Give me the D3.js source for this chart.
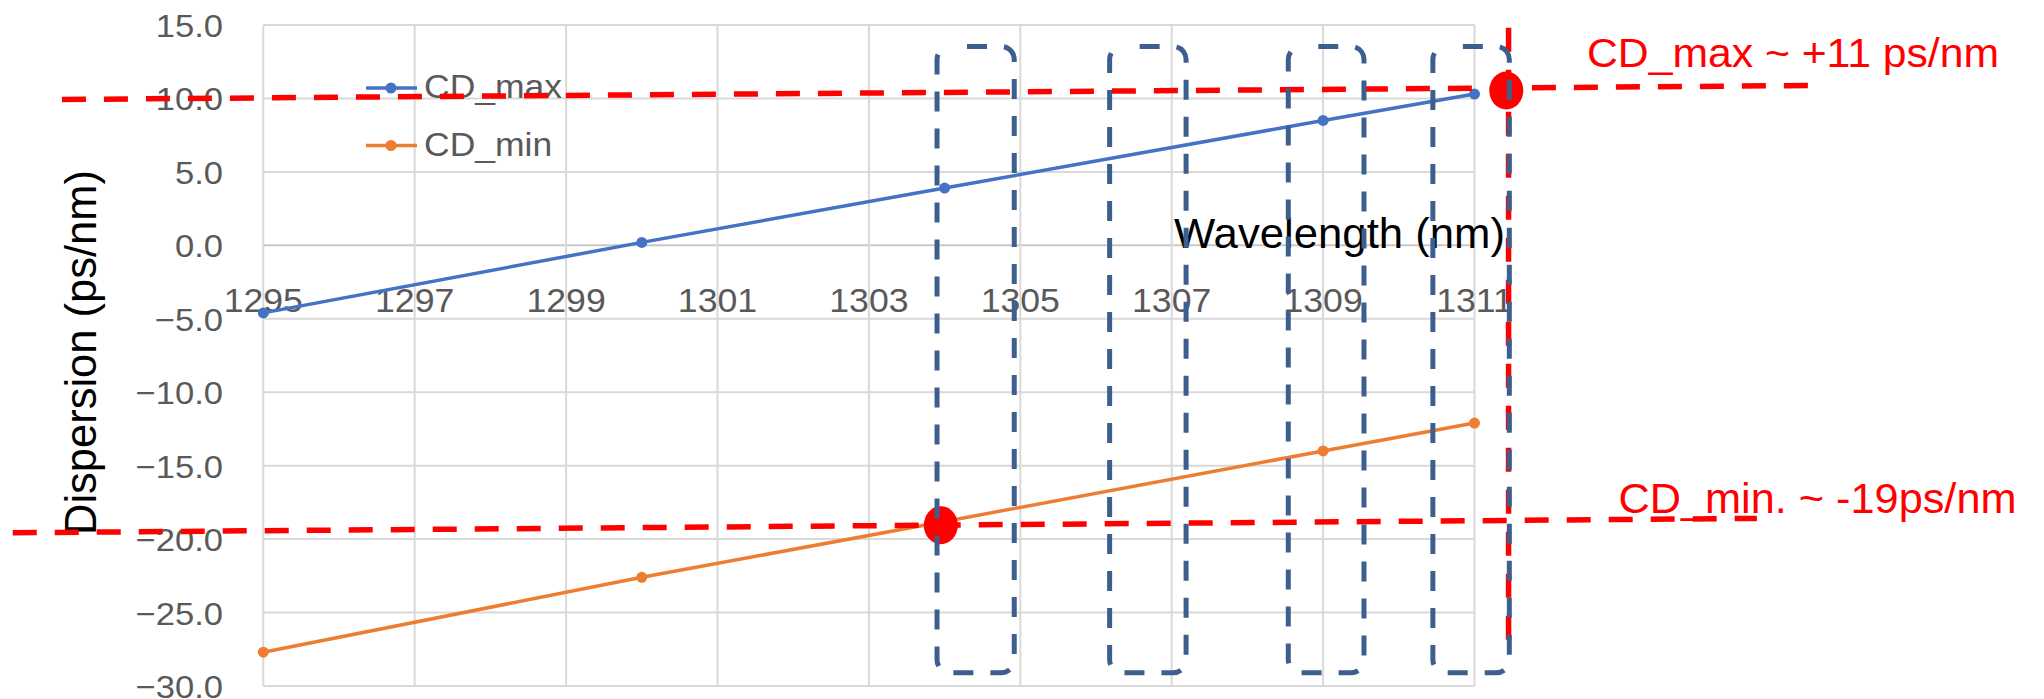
<!DOCTYPE html>
<html><head><meta charset="utf-8">
<script src="https://cdn.jsdelivr.net/npm/d3@7"></script>
<style>
body{margin:0;background:#fff;}
svg{display:block;}
text{font-family:"Liberation Sans", Arial, sans-serif;}
</style>
</head><body><svg id="c" width="2044" height="699"></svg>
<script>
// ---- data ----
const wavelengths = [1295, 1300, 1304, 1309, 1311];
const cdMax = [-4.6, 0.2, 3.9, 8.5, 10.3];
const cdMin = [-27.7, -22.6, -18.8, -14.0, -12.1];
const seriesNames = ["CD_max", "CD_min"];
const seriesColors = ["#4472C4", "#ED7D31"];
const xTicks = [1295, 1297, 1299, 1301, 1303, 1305, 1307, 1309, 1311];
const yTicks = [15, 10, 5, 0, -5, -10, -15, -20, -25, -30];
const xTitle = "Wavelength (nm)";
const yTitle = "Dispersion (ps/nm)";
// annotation (data units)
const markMax = [1311.42, 10.54];
const markMin = [1303.95, -19.05];
const hLineMax = [[1292.34, 9.93], [1315.42, 10.88]];
const hLineMin = [[1291.69, -19.57], [1314.73, -18.59]];
const vLine = [[1311.45, 14.81], [1311.45, -27.2]];
const boxRanges = [[1303.9, 1304.92], [1306.18, 1307.19], [1308.54, 1309.54], [1310.45, 1311.46]];
const boxYRange = [13.54, -29.1];
const noteMax = "CD_max ~ +11 ps/nm";
const noteMin = "CD_min. ~ -19ps/nm";

// ---- drawing ----
const svg = d3.select("#c");
const x = d3.scaleLinear().domain([1295, 1311]).range([263.3, 1474.5]);
const y = d3.scaleLinear().domain([-30, 15]).range([686, 25]);

function fit(sel, target) {
  sel.each(function(){
    const w = typeof target === "function" ? target(this.getComputedTextLength()) : target;
    d3.select(this).attr("textLength", w).attr("lengthAdjust", "spacingAndGlyphs");
  });
}

// gridlines
const grid = svg.append("g");
grid.selectAll("line.h").data(yTicks).join("line")
  .attr("x1", x.range()[0]).attr("x2", x.range()[1])
  .attr("y1", d => y(d)).attr("y2", d => y(d))
  .attr("stroke", d => d === 0 ? "#c8c8c8" : "#d9d9d9").attr("stroke-width", 2);
grid.selectAll("line.v").data(xTicks).join("line")
  .attr("x1", d => x(d)).attr("x2", d => x(d))
  .attr("y1", y.range()[0]).attr("y2", y.range()[1])
  .attr("stroke", "#d9d9d9").attr("stroke-width", 2);

// y tick labels
const yl = svg.append("g").selectAll("text").data(yTicks).join("text")
  .attr("x", 223).attr("y", d => y(d) + 12)
  .attr("text-anchor", "end").attr("font-size", 32).attr("fill", "#595959")
  .text(d => d3.format(".1f")(d));
fit(yl, w => w * 1.08);

// x tick labels
const xl = svg.append("g").selectAll("text").data(xTicks).join("text")
  .attr("x", d => x(d)).attr("y", y(0) + 67)
  .attr("text-anchor", "middle").attr("font-size", 33).attr("fill", "#595959")
  .text(d => d);
fit(xl, w => w * 1.08);

// series
const seriesData = [cdMax, cdMin];
const line = d3.line().x(d => x(d[0])).y(d => y(d[1]));
seriesData.forEach((vals, i) => {
  const pts = wavelengths.map((w, j) => [w, vals[j]]);
  svg.append("path").datum(pts).attr("d", line)
    .attr("fill", "none").attr("stroke", seriesColors[i]).attr("stroke-width", 3.5);
  svg.append("g").selectAll("circle").data(pts).join("circle")
    .attr("cx", d => x(d[0])).attr("cy", d => y(d[1])).attr("r", 5.5)
    .attr("fill", seriesColors[i]);
});

// legend
const lg = svg.append("g");
seriesNames.forEach((name, i) => {
  const cy = 88 + i * 57.5;
  lg.append("line").attr("x1", 366).attr("x2", 417).attr("y1", cy).attr("y2", cy)
    .attr("stroke", seriesColors[i]).attr("stroke-width", 3.5);
  lg.append("circle").attr("cx", 391).attr("cy", cy).attr("r", 5.5).attr("fill", seriesColors[i]);
  const t = lg.append("text").attr("x", 424).attr("y", cy + 10)
    .attr("font-size", 33.5).attr("fill", "#595959").text(name);
  fit(t, w => w * 1.06);
});

// axis titles
const xt = svg.append("text").attr("x", 1174).attr("y", 248)
  .attr("font-size", 42).attr("fill", "#000").text(xTitle);
fit(xt, 331);
const yt = svg.append("text").attr("transform", "rotate(-90)")
  .attr("x", -352.5).attr("y", 96).attr("text-anchor", "middle")
  .attr("font-size", 45).attr("fill", "#000").text(yTitle);
fit(yt, 365);

// red annotations
const red = "#FF0000";
const ann = svg.append("g");
[hLineMax, hLineMin, vLine].forEach(seg => {
  ann.append("line")
    .attr("x1", x(seg[0][0])).attr("y1", y(seg[0][1]))
    .attr("x2", x(seg[1][0])).attr("y2", y(seg[1][1]))
    .attr("stroke", red).attr("stroke-width", 5.5).attr("stroke-dasharray", "24 18");
});
[markMax, markMin].forEach(m => {
  ann.append("ellipse").attr("cx", x(m[0])).attr("cy", y(m[1]))
    .attr("rx", 17).attr("ry", 19).attr("fill", red);
});
const t1 = ann.append("text").attr("x", 1587).attr("y", 66.7)
  .attr("font-size", 40).attr("fill", red).text(noteMax);
fit(t1, 412);
const t2 = ann.append("text").attr("x", 1618.5).attr("y", 513.3)
  .attr("font-size", 42).attr("fill", red).text(noteMin);
fit(t2, 398);

// blue dashed boxes
svg.append("g").selectAll("rect").data(boxRanges).join("rect")
  .attr("x", d => x(d[0])).attr("width", d => x(d[1]) - x(d[0]))
  .attr("y", y(boxYRange[0])).attr("height", y(boxYRange[1]) - y(boxYRange[0]))
  .attr("rx", 13).attr("ry", 13)
  .attr("fill", "none").attr("stroke", "#3d5f8d").attr("stroke-width", 5)
  .attr("stroke-dasharray", "20 17").attr("stroke-dashoffset", 20);
</script>
</body></html>
